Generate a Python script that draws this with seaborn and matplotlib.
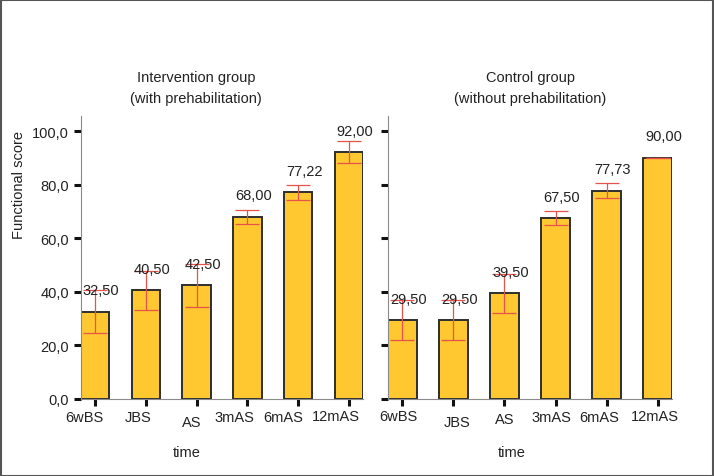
import numpy as np
import pandas as pd
import matplotlib
matplotlib.use('Agg')
import matplotlib.pyplot as plt
from matplotlib.transforms import ScaledTranslation
from matplotlib.patches import Rectangle
from matplotlib.ticker import FuncFormatter
import seaborn as sns

# data
times = ['6wBS', 'JBS', 'AS', '3mAS', '6mAS', '12mAS']
interv_mean = [32.50, 40.50, 42.50, 68.00, 77.22, 92.00]
interv_err = [8.0, 7.3, 8.0, 2.7, 2.8, 4.1]
control_mean = [29.50, 29.50, 39.50, 67.50, 77.73, 90.00]
control_err = [7.4, 7.4, 7.3, 2.6, 2.7, 0.0]
titles = ['Intervention group\n(with prehabilitation)', 'Control group\n(without prehabilitation)']

sns.set_style('white')
plt.rcParams['font.family'] = ['Liberation Sans', 'DejaVu Sans']
txt = '#222222'

fig = plt.figure(figsize=(7.14, 4.77), dpi=100)
ax1 = fig.add_axes([81/714, 1-400/477, 282/714, 283/477])
ax2 = fig.add_axes([388/714, 1-400/477, 284/714, 283/477])

panels = [(ax1, interv_mean, interv_err), (ax2, control_mean, control_err)]
for i, (ax, means, errs) in enumerate(panels):
    df = pd.DataFrame({'time': times, 'score': means, 'err': errs})
    sns.barplot(data=df, x='time', y='score', order=times, color='#ffc730',
                edgecolor='#2e2e2e', linewidth=1.4, width=0.56, saturation=1,
                errorbar=None, ax=ax)
    ax.errorbar(np.arange(len(times)), df['score'], yerr=df['err'], fmt='none',
                ecolor='#e5534b', elinewidth=0.9, capsize=8.5, capthick=0.9, zorder=5)
    for x, (m, e) in enumerate(zip(means, errs)):
        lab = f'{m:.2f}'.replace('.', ',')
        ax.annotate(lab, (x, m + 8), xytext=(4.3, 0), textcoords='offset points',
                    ha='center', va='center', fontsize=10.5, color=txt, zorder=6)

    ax.set_xlim(-0.28, 5.28)
    ax.set_ylim(0, 105.6)
    ax.set_yticks([0, 20, 40, 60, 80, 100])
    ax.yaxis.set_major_formatter(FuncFormatter(lambda v, p: f'{v:.1f}'.replace('.', ',')))
    for s in ['top', 'right']:
        ax.spines[s].set_visible(False)
    for s in ['left', 'bottom']:
        ax.spines[s].set_color('#8a8a8a')
        ax.spines[s].set_linewidth(0.8)
    ax.tick_params(axis='both', direction='out', length=5, width=2.2, color='#111111',
                   labelsize=10.5, labelcolor=txt, bottom=True, left=True)
    ax.tick_params(axis='x', pad=3)
    ax.set_xlabel('time', fontsize=10.5, color=txt)
    ax.set_ylabel('')
    ax.text(0.408 if i == 0 else 0.5, 1.10, titles[i], transform=ax.transAxes,
            ha='center', va='center', fontsize=10.5, color=txt, linespacing=1.65)

# y label only on the left panel
ax1.set_ylabel('Functional score', fontsize=10.5, color=txt)
ax1.yaxis.set_label_coords(-0.195, 0.76)
ax2.tick_params(axis='y', labelleft=False)

ax1.xaxis.set_label_coords(0.376, -0.163)
ax2.xaxis.set_label_coords(0.437, -0.163)

# slight shifts of the tick labels, as in the reference
shift1 = [(-11, 0), (-8, 0), (-5, -5), (-13, 0), (-15, 0), (-13, 1)]
shift2 = [(-4, 1), (4, -5), (0, -2), (-4, 0), (-7, 0), (-3, 1)]
for ax, shifts in [(ax1, shift1), (ax2, shift2)]:
    for lab, (dx, dy) in zip(ax.get_xticklabels(), shifts):
        lab.set_transform(lab.get_transform() + ScaledTranslation(dx/100, dy/100, fig.dpi_scale_trans))

fig.patches.append(Rectangle((0.001, 0.001), 0.998, 0.997, transform=fig.transFigure,
                             fill=False, edgecolor='#555555', linewidth=1.5))

fig.savefig('out.png', dpi=100)
